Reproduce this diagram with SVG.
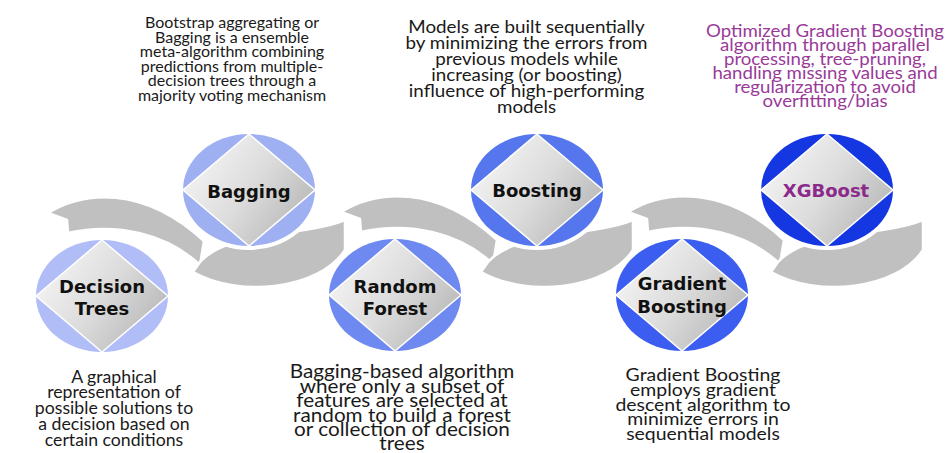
<svg xmlns="http://www.w3.org/2000/svg" xmlns:xlink="http://www.w3.org/1999/xlink" width="947" height="453" viewBox="0 0 947 453">
<style>
.rib{fill:#c0c0c0;stroke:#ffffff;stroke-width:2.5;stroke-linejoin:round}
.halo{fill:#ffffff}
.dia{fill:url(#dg);stroke:#ffffff;stroke-width:1.5}
.lbl{font-family:"DejaVu Sans",Verdana,sans-serif;font-weight:bold;font-size:18px;fill:#111111;text-anchor:middle}
.desc{font-family:Lato,"Liberation Sans",sans-serif;fill:#1a1a1a;text-anchor:middle}
.pur{fill:#993a99}
</style>
<defs>
<linearGradient id="dg" x1="0" y1="0.2" x2="1" y2="0.8">
<stop offset="0" stop-color="#f7f7f7"/>
<stop offset="0.5" stop-color="#dcdcdc"/>
<stop offset="1" stop-color="#b3b3b3"/>
</linearGradient>
<path id="arch" d="M -54,-83 C -20,-104 40,-112 102,-55 L 98,-31 C 65,-62 15,-74 -34,-63 L -35,-76 Z"/>
<path id="trough" d="M -56,82 L -49,72 C -20,40 50,48 96,30 L 96,60 C 70,100 -10,108 -56,82 Z"/>
</defs>
<rect width="947" height="453" fill="#ffffff"/>
<g id="connectors">
<use xlink:href="#arch" class="rib" transform="translate(102,296)"/>
<use xlink:href="#trough" class="rib" transform="translate(249,190)"/>
<use xlink:href="#arch" class="rib" transform="translate(395,295)"/>
<use xlink:href="#trough" class="rib" transform="translate(537,190)"/>
<use xlink:href="#arch" class="rib" transform="translate(682,295)"/>
<use xlink:href="#trough" class="rib" transform="translate(827,190)"/>
</g>
<g id="decision-trees">
<ellipse class="halo" cx="102" cy="296" rx="70" ry="60"/>
<ellipse cx="102" cy="296" rx="66" ry="56" fill="#b0bdf7"/>
<polygon class="dia" points="102,240 168,296 102,352 36,296"/>
<text class="lbl" x="102" y="293">Decision</text>
<text class="lbl" x="102" y="315">Trees</text>
<text class="desc" font-size="17" transform="translate(114,0) scale(1.04,1)" x="0" y="383">A graphical<tspan x="0" y="398.5">representation of</tspan><tspan x="0" y="414.5">possible solutions to</tspan><tspan x="0" y="430.5">a decision based on</tspan><tspan x="0" y="446">certain conditions</tspan></text>
</g>
<g id="bagging">
<ellipse class="halo" cx="249" cy="190" rx="70" ry="60"/>
<ellipse cx="249" cy="190" rx="66" ry="56" fill="#9fb0f2"/>
<polygon class="dia" points="249,134 315,190 249,246 183,190"/>
<text class="lbl" x="249" y="198">Bagging</text>
<text class="desc" font-size="16" x="232" y="28">Bootstrap aggregating or<tspan x="232" y="42.5">Bagging is a ensemble</tspan><tspan x="232" y="57">meta-algorithm combining</tspan><tspan x="232" y="71.5">predictions from multiple-</tspan><tspan x="232" y="86">decision trees through a</tspan><tspan x="232" y="100.5">majority voting mechanism</tspan></text>
</g>
<g id="random-forest">
<ellipse class="halo" cx="395" cy="295" rx="70" ry="60"/>
<ellipse cx="395" cy="295" rx="66" ry="56" fill="#6e89ef"/>
<polygon class="dia" points="395,239 461,295 395,351 329,295"/>
<text class="lbl" x="395" y="293">Random</text>
<text class="lbl" x="395" y="315">Forest</text>
<text class="desc" font-size="18.5" transform="translate(402,0) scale(1.12,1)" x="0" y="378">Bagging-based algorithm<tspan x="0" y="393">where only a subset of</tspan><tspan x="0" y="407.5">features are selected at</tspan><tspan x="0" y="422">random to build a forest</tspan><tspan x="0" y="436.5">or collection of decision</tspan><tspan x="0" y="450">trees</tspan></text>
</g>
<g id="boosting">
<ellipse class="halo" cx="537" cy="190" rx="70" ry="60"/>
<ellipse cx="537" cy="190" rx="66" ry="56" fill="#5676ee"/>
<polygon class="dia" points="537,134 603,190 537,246 471,190"/>
<text class="lbl" x="537" y="197">Boosting</text>
<text class="desc" font-size="18" transform="translate(526.5,0) scale(1.045,1)" x="0" y="33">Models are built sequentially<tspan x="0" y="49">by minimizing the errors from</tspan><tspan x="0" y="65">previous models while</tspan><tspan x="0" y="81">increasing (or boosting)</tspan><tspan x="0" y="97">influence of high-performing</tspan><tspan x="0" y="113">models</tspan></text>
</g>
<g id="gradient-boosting">
<ellipse class="halo" cx="682" cy="295" rx="70" ry="60"/>
<ellipse cx="682" cy="295" rx="66" ry="56" fill="#3c5ef0"/>
<polygon class="dia" points="682,239 748,295 682,351 616,295"/>
<text class="lbl" x="682" y="290">Gradient</text>
<text class="lbl" x="682" y="313">Boosting</text>
<text class="desc" font-size="18" transform="translate(703,0) scale(1.08,1)" x="0" y="381">Gradient Boosting<tspan x="0" y="396">employs gradient</tspan><tspan x="0" y="411">descent algorithm to</tspan><tspan x="0" y="425.5">minimize errors  in</tspan><tspan x="0" y="440">sequential models</tspan></text>
</g>
<g id="xgboost">
<ellipse class="halo" cx="827" cy="190" rx="70" ry="60"/>
<ellipse cx="827" cy="190" rx="66" ry="56" fill="#1537e2"/>
<polygon class="dia" points="827,134 893,190 827,246 761,190"/>
<text class="lbl" x="826" y="197" style="fill:#8b2a8b">XGBoost</text>
<text class="desc pur" font-size="17.5" transform="translate(825,0) scale(1.065,1)" x="0" y="37">Optimized Gradient Boosting<tspan x="0" y="51">algorithm through parallel</tspan><tspan x="0" y="65">processing, tree-pruning,</tspan><tspan x="0" y="79">handling missing values and</tspan><tspan x="0" y="93">regularization to avoid</tspan><tspan x="0" y="107">overfitting/bias</tspan></text>
</g>
</svg>
